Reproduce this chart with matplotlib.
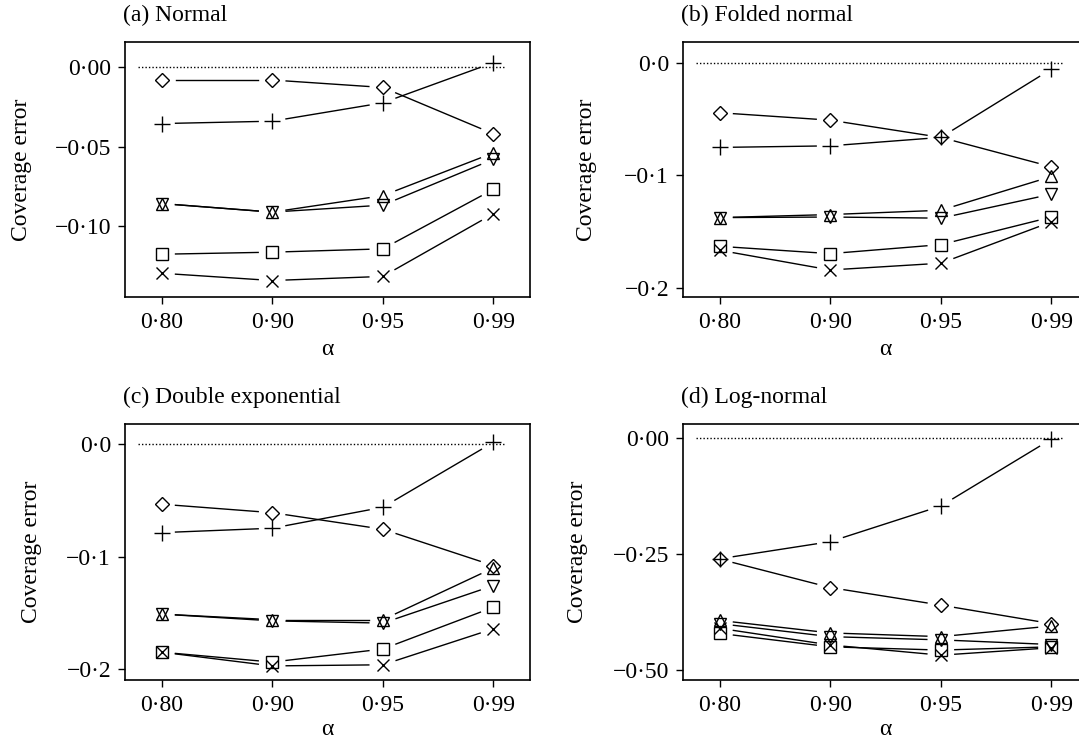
import numpy as np
import matplotlib
matplotlib.use("Agg")
from matplotlib import pyplot as plt

#####################################################################
# Data (coverage error vs alpha)
#####################################################################

alpha_labels = ["0·80", "0·90", "0·95", "0·99"]

normal = {
    "diamond": [-0.008, -0.008, -0.0127, -0.042],
    "plus":    [-0.0355, -0.034, -0.0224, 0.003],
    "up":      [-0.086, -0.0914, -0.081, -0.054],
    "down":    [-0.086, -0.0914, -0.087, -0.058],
    "square":  [-0.118, -0.1167, -0.1146, -0.077],
    "cross":   [-0.130, -0.1346, -0.132, -0.0924],
}
folded = {
    "diamond": [-0.0444, -0.051, -0.0663, -0.0924],
    "plus":    [-0.0752, -0.0738, -0.0663, -0.0056],
    "up":      [-0.1375, -0.1348, -0.131, -0.101],
    "down":    [-0.1375, -0.137, -0.138, -0.1167],
    "square":  [-0.163, -0.1695, -0.1615, -0.137],
    "cross":   [-0.1665, -0.184, -0.178, -0.1413],
}
double_exp = {
    "diamond": [-0.0535, -0.061, -0.0757, -0.108],
    "plus":    [-0.0787, -0.0748, -0.0562, 0.0015],
    "up":      [-0.151, -0.156, -0.156, -0.110],
    "down":    [-0.151, -0.157, -0.159, -0.1257],
    "square":  [-0.1848, -0.1936, -0.182, -0.1449],
    "cross":   [-0.1848, -0.197, -0.196, -0.164],
}
log_normal = {
    "diamond": [-0.2606, -0.322, -0.36, -0.400],
    "plus":    [-0.26, -0.223, -0.146, -0.0015],
    "up":      [-0.393, -0.420, -0.428, -0.405],
    "down":    [-0.400, -0.428, -0.435, -0.445],
    "square":  [-0.421, -0.450, -0.457, -0.450],
    "cross":   [-0.410, -0.446, -0.468, -0.452],
}

markers = {"diamond": ("D", 7), "plus": ("+", 11), "up": ("^", 9),
           "down": ("v", 9), "square": ("s", 9), "cross": ("x", 9)}

plt.rcParams["font.family"] = ["Liberation Serif", "DejaVu Serif"]
plt.rcParams["font.size"] = 17

fig = plt.figure(figsize=(10.79, 7.38), dpi=100)

W, H = 1079.0, 738.0
panels = [
    # (title, data, axes rect px (left, top, width, height), ylim, yticks, ylabels, ylabel x, xlabel y)
    ("(a) Normal", normal, (125, 42, 405, 255), (-0.145, 0.016),
     [0.0, -0.05, -0.10], ["0·00", "\u22120·05", "\u22120·10"], -0.23, -0.165),
    ("(b) Folded normal", folded, (683, 42, 405, 255), (-0.208, 0.0184),
     [0.0, -0.1, -0.2], ["0·0", "\u22120·1", "\u22120·2"], -0.213, -0.165),
    ("(c) Double exponential", double_exp, (125, 424, 405, 256), (-0.2095, 0.0177),
     [0.0, -0.1, -0.2], ["0·0", "\u22120·1", "\u22120·2"], -0.205, -0.152),
    ("(d) Log-normal", log_normal, (683, 424, 405, 256), (-0.5216, 0.031),
     [0.0, -0.25, -0.50], ["0·00", "\u22120·25", "\u22120·50"], -0.235, -0.152),
]

x = np.arange(1, len(alpha_labels) + 1)


def gapped_line(ax, xs, ys, gap=14):
    pts = ax.transData.transform(np.column_stack([xs, ys]))
    inv = ax.transData.inverted()
    for p0, p1 in zip(pts[:-1], pts[1:]):
        d = p1 - p0
        u = d / np.hypot(*d)
        seg = inv.transform([p0 + u * gap, p1 - u * gap])
        ax.plot(seg[:, 0], seg[:, 1], color="black", lw=1.0)


for title, data, (l, t, w, h), ylim, yt, ytl, ylx, xly in panels:
    ax = fig.add_axes([l / W, 1 - (t + h) / H, w / W, h / H])
    ax.set_xlim(0.67, 4.33)
    ax.set_ylim(*ylim)

    ax.plot([0.79, 4.1], [0, 0], color="black", lw=1.0, linestyle=(0, (1, 1.5)))

    for name, ys in data.items():
        m, ms = markers[name]
        ax.plot(x, ys, linestyle="none", marker=m, markersize=ms,
                markerfacecolor="none", markeredgecolor="black", markeredgewidth=1.0)
        gapped_line(ax, x, ys)

    ax.set_xticks(x)
    ax.set_xticklabels(alpha_labels)
    ax.set_yticks(yt)
    ax.set_yticklabels(ytl)
    ax.tick_params(direction="out", length=5, width=1, pad=5)
    ax.tick_params(axis="x", pad=6)
    for s in ax.spines.values():
        s.set_linewidth(1.2)

    ax.set_ylabel("Coverage error")
    ax.yaxis.set_label_coords(ylx, 0.5)
    ax.set_xlabel("α")
    ax.xaxis.set_label_coords(0.5, xly)

    fig.text((l - 2) / W, 1 - (t - 27) / H, title, ha="left", va="center")

fig.savefig("out.png", dpi=100)
